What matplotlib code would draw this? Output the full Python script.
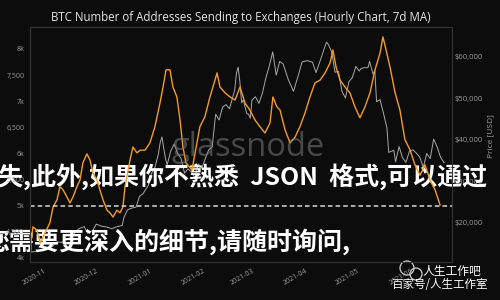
import matplotlib
matplotlib.use('Agg')
import matplotlib.pyplot as plt
import matplotlib.dates as mdates
from matplotlib.ticker import FixedLocator, FixedFormatter
from matplotlib.patches import Circle
import pandas as pd

plt.rcParams['font.family'] = ['Open Sans', 'Noto Sans CJK SC', 'DejaVu Sans']

# addresses sending to exchanges (7d MA), days counted from 2020-11-01
addr_days = [-8.3, -6.6, -4.3, -2.5, 0.3, 3.2, 5.0, 7.3, 9.0, 10.8, 13.1, 14.8, 16.5, 18.8,
             20.6, 22.3, 24.6, 26.4, 28.1, 30.4, 32.1, 33.9, 36.2, 37.9, 39.7, 41.9, 43.7,
             45.4, 46.6, 49.5, 51.2, 53.5, 55.3, 58.2, 61.0, 63.9, 66.8, 68.6, 70.3, 72.6,
             74.3, 76.6, 78.4, 80.1, 81.8, 85.3, 89.9, 92.8, 95.7, 98.6, 99.8, 101.5, 104.4,
             107.3, 110.2, 113.1, 116.0, 118.8, 121.7, 124.6, 127.5, 130.4, 132.1, 134.4,
             136.2, 139.1, 142.0, 144.9, 147.7, 150.6, 153.5, 156.4, 159.3, 162.2, 165.1,
             166.8, 168.6, 170.9, 173.8, 176.6, 179.5, 182.4, 185.3, 188.2, 191.1, 194.0,
             195.7, 197.5, 199.8, 202.7, 205.5, 208.4, 211.3, 214.2, 217.1, 220.0, 222.9,
             225.8, 228.7]
addr_vals = [4150, 4590, 4530, 4280, 4470, 4670, 4970, 5110, 5360, 5300, 5160, 5050, 5160, 5360,
             5490, 5820, 5990, 5870, 5620, 5490, 5300, 5110, 4910, 4860, 4780, 4910, 4860,
             4970, 5360, 5870, 6120, 6010, 6060, 6060, 6200, 6510, 6960, 7270, 7600, 7600,
             7270, 7080, 6640, 6120, 5820, 5680, 6510, 6700, 7080, 7400, 7540, 7270, 7160,
             7080, 7020, 7270, 6960, 6830, 6640, 6510, 6390, 6580, 7080, 6890,
             6830, 6450, 6200, 6310, 6510, 6770, 7080, 7350, 7400, 7540, 7730,
             7980, 7650, 7400, 7270, 7160, 6890, 6680, 6890, 7160, 7600, 7920,
             8230, 7980, 7650, 7160, 6830, 6260, 6070, 5780, 5580, 5780, 5490,
             5300, 5010]

# BTC price
price_days = [-10, -5, 0, 4, 7, 10, 13, 16, 18, 20, 23, 25, 28, 30, 33, 36, 39, 42, 45, 46,
              48, 50, 53, 55, 57, 60, 62, 64, 66, 67, 68, 69, 70, 71, 73, 75, 77, 79, 81, 83,
              85, 87, 89, 91, 93, 95, 97, 99, 101, 103, 105, 107, 110, 111, 112, 113, 114,
              115, 117, 118, 119, 120, 122, 124, 126, 128, 130, 132, 134, 136, 138, 141, 144,
              147, 149, 152, 155, 157, 160, 163, 164, 166, 168, 170, 172, 174, 176, 178, 180,
              182, 183, 185, 187, 188, 190, 191, 192, 194, 196, 198, 199, 201, 202, 203, 205,
              207, 209, 211, 213, 215, 217, 219, 221, 223, 225, 227, 229, 231]
price_vals = [12900, 13100, 13700, 14100, 15400, 15300, 16000, 16700, 17800, 18600, 19100,
              17500, 18200, 19700, 19200, 19000, 18600, 19100, 19400, 21300, 23100, 23500,
              23800, 26400, 27000, 29000, 32000, 33500, 36800, 39500, 40700, 38000, 35500,
              34000, 37300, 39000, 36800, 35500, 32000, 33000, 32300, 30800, 34200, 33100,
              35500, 37600, 38300, 46200, 44800, 47900, 48500, 47500, 52000, 56000, 57500,
              54000, 48900, 49700, 46300, 46200, 45200, 49600, 50400, 48800, 51200, 54900,
              57800, 61200, 55600, 58900, 58300, 54500, 51700, 55900, 58800, 59100, 58700,
              56200, 59800, 63500, 63100, 61300, 56300, 56500, 51700, 50100, 54000, 55000,
              57700, 56600, 57200, 57400, 57400, 58900, 55800, 56700, 49200, 49700, 46400,
              42900, 37000, 37300, 37500, 34700, 38400, 35700, 34600, 37300, 37600, 36800,
              35800, 33400, 36700, 35500, 40200, 38300, 35800, 34500]

left_ticks = [4000, 4500, 5000, 5500, 6000, 6500, 7000, 7500, 8000]
left_labels = ['4k', '4,500', '5k', '5,500', '6k', '6,500', '7k', '7,500', '8k']
right_ticks = [20000, 30000, 40000, 50000, 60000]
right_labels = ['$20,000', '$30,000', '$40,000', '$50,000', '$60,000']

base = pd.Timestamp('2020-11-01')
addr_x = base + pd.to_timedelta(addr_days, unit='D')
price_x = base + pd.to_timedelta(price_days, unit='D')

bg = '#0c0c0c'
grey = '#9a9a9a'

fig = plt.figure(figsize=(5, 3), dpi=100, facecolor=bg)
ax = fig.add_axes([0.06, 0.127, 0.844, 0.783])
ax2 = ax.twinx()
ax.set_zorder(ax2.get_zorder() + 1)
ax.patch.set_visible(False)
ax2.set_facecolor(bg)

ax2.plot(price_x, price_vals, color='#a8a8a8', lw=0.7)
ax.plot(addr_x, addr_vals, color='#f39c24', lw=1.0)
ax.axhline(5000, color='#d8d8d8', lw=1.1, ls=(0, (3, 2)))

ax.set_xlim(base + pd.Timedelta(days=-8.3), base + pd.Timedelta(days=235.6))
ax.set_ylim(3920, 8420)
ax2.set_ylim(10600, 67200)

ax.yaxis.set_major_locator(FixedLocator(left_ticks))
ax.yaxis.set_major_formatter(FixedFormatter(left_labels))
ax2.yaxis.set_major_locator(FixedLocator(right_ticks))
ax2.yaxis.set_major_formatter(FixedFormatter(right_labels))
ax.xaxis.set_major_locator(mdates.MonthLocator())
ax.xaxis.set_major_formatter(mdates.DateFormatter('%Y-%m'))

ax.tick_params(axis='y', length=0, pad=4, labelsize=5, labelcolor=grey)
ax.tick_params(axis='x', length=0, pad=4, labelsize=5, labelcolor=grey)
ax2.tick_params(axis='y', length=0, pad=1.5, labelsize=5.5, labelcolor=grey)
for lab in ax.get_xticklabels():
    lab.set_rotation(30)
    lab.set_ha('right')
    lab.set_rotation_mode('anchor')

ax2.set_ylabel('Price [USD]', color=grey, fontsize=6)
ax2.yaxis.set_label_coords(1.083, 0.536)

for a in (ax, ax2):
    for s in a.spines.values():
        s.set_color('#333333')
        s.set_linewidth(0.8)

fig.text(0.482, 0.943, 'BTC Number of Addresses Sending to Exchanges (Hourly Chart, 7d MA)',
         ha='center', va='center', color='#e6e6e6', fontsize=8.3)

# watermark
fig.text(0.496, 0.51, 'glassnode', ha='center', va='center', color='#7a7a7a',
         alpha=0.55, fontsize=23.5)

# overlay layer in pixel coordinates
ov = fig.add_axes([0, 0, 1, 1])
ov.set_xlim(0, 500)
ov.set_ylim(300, 0)
ov.axis('off')

cjk = ['Noto Sans CJK SC', 'DejaVu Sans']
ov.text(-2, 177, '失,此外,如果你不熟悉  JSON  格式,可以通过', color='white', fontsize=18,
        fontweight='bold', family=cjk, ha='left', va='center')
ov.text(-16, 242, '您需要更深入的细节,请随时询问,', color='white', fontsize=18,
        fontweight='bold', family=cjk, ha='left', va='center')

ov.add_patch(Circle((407, 268), 7, fill=False, ec='#cfcfcf', lw=0.9))
ov.add_patch(Circle((416, 274), 6, fill=False, ec='#cfcfcf', lw=0.9))
ov.text(452, 272, '人生工作吧', color='white', fontsize=8.5, family=cjk,
        ha='center', va='center')
ov.text(440, 285, '百家号/人生工作室', color='white', fontsize=8.3, family=cjk,
        ha='center', va='center')

fig.savefig('out.png', dpi=100, facecolor=bg)
